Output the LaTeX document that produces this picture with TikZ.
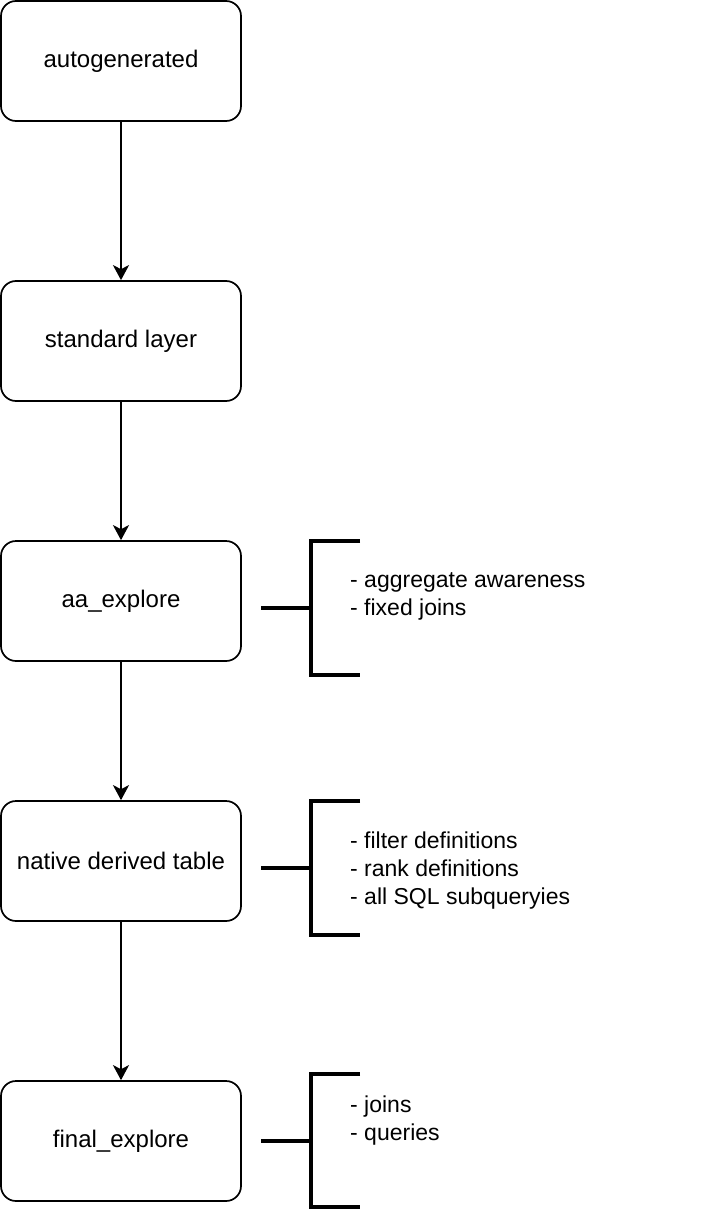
\documentclass[tikz,border=0pt]{standalone}
\usepackage{fontspec}
\setmainfont{Liberation Sans}
\usetikzlibrary{arrows.meta}
\begin{document}
\begin{tikzpicture}[x=1pt,y=-1pt,
  stage/.style={draw=black,line width=1.7pt,rounded corners=15pt,minimum width=240pt,minimum height=120pt,inner sep=0pt,font=\fontsize{24}{28}\selectfont},
  flow/.style={draw=black,line width=1.7pt,-{Stealth[length=15pt,width=16pt,inset=4pt]}},
  brace/.style={draw=black,line width=3.3pt},
  note/.style={anchor=north west,inner sep=0pt,align=left,font=\fontsize{23}{28}\selectfont}]
\useasboundingbox (0,0) rectangle (722,1212);
\node[stage] (a) at (121,61) {autogenerated};
\node[stage] (b) at (121,341) {standard layer};
\node[stage] (c) at (121,601) {aa\_explore};
\node[stage] (d) at (121,861) {native derived table};
\node[stage] (e) at (121,1141) {final\_explore};
\draw[flow] (a) -- (b);
\draw[flow] (b) -- (c);
\draw[flow] (c) -- (d);
\draw[flow] (d) -- (e);
% brackets
\coordinate (s1) at (261,608);
\coordinate (v1) at (311,608);
\coordinate (t1) at (360,541);
\coordinate (u1) at (360,675);
\draw[brace] (s1) -- (v1);
\draw[brace] (t1) -| (v1) |- (u1);
\coordinate (s2) at (261,868);
\coordinate (v2) at (311,868);
\coordinate (t2) at (360,801);
\coordinate (u2) at (360,935);
\draw[brace] (s2) -- (v2);
\draw[brace] (t2) -| (v2) |- (u2);
\coordinate (s3) at (261,1141);
\coordinate (v3) at (311,1141);
\coordinate (t3) at (360,1074);
\coordinate (u3) at (360,1207);
\draw[brace] (s3) -- (v3);
\draw[brace] (t3) -| (v3) |- (u3);
\node[note] (n1) at (350,567.4) {\strut- aggregate awareness\\- fixed joins};
\node[note] (n2) at (350,828.4) {\strut- filter definitions\\- rank definitions\\- all SQL subqueryies};
\node[note] (n3) at (350,1092.4) {\strut- joins\\- queries};
\end{tikzpicture}
\end{document}
